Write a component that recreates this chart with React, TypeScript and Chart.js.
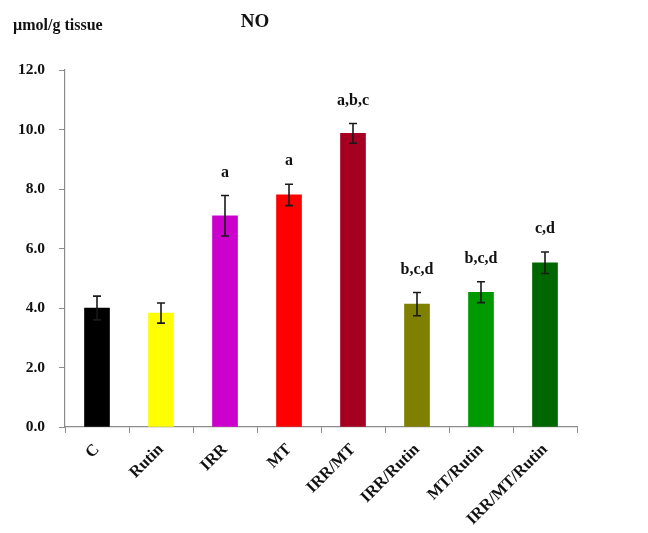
import { useEffect, useRef } from "react";
import { Chart, registerables } from "chart.js";

Chart.register(...registerables);

// Nitric oxide level per treatment group
const groups = ["C", "Rutin", "IRR", "MT", "IRR/MT", "IRR/Rutin", "MT/Rutin", "IRR/MT/Rutin"];
const noMeans = [4.0, 3.83, 7.1, 7.8, 9.87, 4.13, 4.53, 5.52];
const noErrors = [0.4, 0.34, 0.68, 0.36, 0.33, 0.39, 0.35, 0.36];
const sigLetters = ["", "", "a", "a", "a,b,c", "b,c,d", "b,c,d", "c,d"];
const barColors = ["#000000", "#FFFF00", "#CC00CC", "#FF0000", "#A50021", "#808000", "#009900", "#006600"];
const yMin = 0;
const yMax = 12;
const yStep = 2;

const FONT = '"Liberation Serif", "Times New Roman", serif';

const errorBarPlugin = {
  id: "errorBars",
  afterDatasetsDraw(chart: any) {
    const { ctx } = chart;
    const meta = chart.getDatasetMeta(0);
    const y = chart.scales.y;
    ctx.save();
    ctx.strokeStyle = "#1a1a1a";
    ctx.lineWidth = 1.6;
    meta.data.forEach((bar: any, i: number) => {
      const x = bar.x;
      const top = y.getPixelForValue(noMeans[i] + noErrors[i]);
      const bottom = y.getPixelForValue(noMeans[i] - noErrors[i]);
      const cap = 4;
      ctx.beginPath();
      ctx.moveTo(x, top);
      ctx.lineTo(x, bottom);
      ctx.moveTo(x - cap, top);
      ctx.lineTo(x + cap, top);
      ctx.moveTo(x - cap, bottom);
      ctx.lineTo(x + cap, bottom);
      ctx.stroke();

      const letters = sigLetters[i];
      if (letters) {
        ctx.fillStyle = "#111";
        ctx.font = `bold 16px ${FONT}`;
        ctx.textAlign = "center";
        ctx.textBaseline = "middle";
        ctx.fillText(letters, x, top - 23);
      }
    });
    ctx.restore();
  },
};

const headerPlugin = {
  id: "headerText",
  afterDraw(chart: any) {
    const { ctx } = chart;
    ctx.save();
    ctx.fillStyle = "#111";
    ctx.textBaseline = "middle";
    ctx.font = `bold 16px ${FONT}`;
    ctx.textAlign = "left";
    ctx.fillText("µmol/g tissue", 13, 26);
    ctx.font = `bold 19px ${FONT}`;
    ctx.textAlign = "center";
    ctx.fillText("NO", 255, 22);
    ctx.restore();
  },
};

export default function App() {
  const canvasRef = useRef<HTMLCanvasElement | null>(null);

  useEffect(() => {
    if (!canvasRef.current) return;
    const chart = new Chart(canvasRef.current, {
      type: "bar",
      data: {
        labels: groups,
        datasets: [
          {
            data: noMeans,
            backgroundColor: barColors,
            borderWidth: 0,
            barThickness: 25,
          },
        ],
      },
      options: {
        responsive: false,
        animation: false,
        layout: { padding: { top: 70, right: 71, left: 0, bottom: 0 } },
        plugins: {
          legend: { display: false },
          tooltip: { enabled: false },
          title: { display: false },
        },
        scales: {
          x: {
            offset: true,
            afterFit: (s: any) => {
              s.height = 106;
            },
            grid: {
              offset: true,
              drawOnChartArea: false,
              drawTicks: true,
              tickLength: 6,
              color: "#8c8c8c",
            },
            border: { color: "#8c8c8c", width: 1.2 },
            ticks: {
              color: "#111",
              font: { family: FONT, size: 16.5, weight: "bold" },
              minRotation: 45,
              maxRotation: 45,
              padding: 7,
              autoSkip: false,
            },
          },
          y: {
            min: yMin,
            max: yMax,
            afterFit: (s: any) => {
              s.width = 65;
            },
            grid: {
              drawOnChartArea: false,
              drawTicks: true,
              tickLength: 6,
              color: "#8c8c8c",
            },
            border: { color: "#8c8c8c", width: 1.2 },
            ticks: {
              stepSize: yStep,
              color: "#111",
              padding: 14,
              font: { family: FONT, size: 15.5, weight: "bold" },
              callback: (v: any) => Number(v).toFixed(1),
            },
          },
        },
      },
      plugins: [errorBarPlugin, headerPlugin],
    } as any);
    return () => chart.destroy();
  }, []);

  return (
    <div style={{ position: "fixed", left: 0, top: 0, width: 648, height: 533, background: "#fff" }}>
      <canvas ref={canvasRef} width={648} height={533} style={{ display: "block" }} />
    </div>
  );
}
